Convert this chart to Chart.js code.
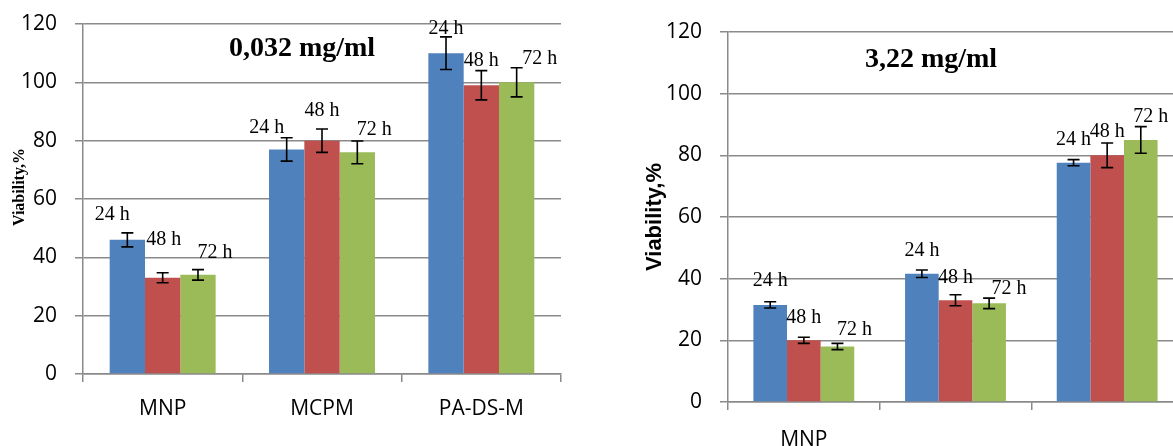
<!DOCTYPE html>
<html>
<head>
<meta charset="utf-8">
<script src="https://cdn.jsdelivr.net/npm/chart.js@4.4.1/dist/chart.umd.min.js"></script>
<style>
    html, body { margin: 0; padding: 0; background: #fff; overflow: hidden; }
    body { width: 1173px; height: 446px; position: relative; }
    canvas { position: absolute; top: 0; }
    #leftChart { left: 0; }
    #rightChart { left: 600px; }
</style>
</head>
<body>
<canvas id="leftChart" width="600" height="446"></canvas>
<canvas id="rightChart" width="600" height="446"></canvas>
<script>
// data
const categories = ["MNP", "MCPM", "PA-DS-M"];
const rightCategories = ["MNP", "", ""];
const seriesNames = ["24 h", "48 h", "72 h"];
const seriesColors = ["#4F81BD", "#C0504D", "#9BBB59"];
const yMax = 120;
const yStep = 20;

// 0,032 mg/ml
const left24 = [46, 77, 110];
const left48 = [33, 80, 99];
const left72 = [34, 76, 100];
const leftErr24 = [2.4, 4, 5.6];
const leftErr48 = [1.7, 4, 5];
const leftErr72 = [1.8, 3.9, 5];

// 3,22 mg/ml
const right24 = [31.5, 41.6, 77.6];
const right48 = [20, 33, 80];
const right72 = [18, 32, 85];
const rightErr24 = [1, 1.2, 1];
const rightErr48 = [1, 1.8, 4];
const rightErr72 = [1, 1.7, 4.3];

// label nudges (dx, dy from top centre of each bar), like moved Excel labels
const leftLabelShift = [
    [[-15, -25], [-20, -22], [0, -24]],
    [[1, -38], [0, -30], [0, -25]],
    [[17, -22], [17, -23], [23, -24]]
];
const rightLabelShift = [
    [[0, -24], [0, -23], [0, -23]],
    [[0, -23], [0, -23], [0, -24]],
    [[17, -17], [20, -15], [10, -23]]
];

const gridGray = "#8a8a8a";
const tickFont = { family: "'Open Sans', 'Liberation Sans', sans-serif", size: 21 };

function makeOverlay(opts) {
    return {
        id: "overlay",
        afterDatasetsDraw(chart) {
            const ctx = chart.ctx;
            const yScale = chart.scales.y;
            ctx.save();

            // error bars
            ctx.strokeStyle = "#000";
            ctx.lineWidth = 1.6;
            chart.data.datasets.forEach((ds, di) => {
                const meta = chart.getDatasetMeta(di);
                meta.data.forEach((bar, i) => {
                    const v = ds.data[i];
                    const e = opts.errors[di][i];
                    const yTop = yScale.getPixelForValue(v + e);
                    const yBot = yScale.getPixelForValue(v - e);
                    ctx.beginPath();
                    ctx.moveTo(bar.x, yTop);
                    ctx.lineTo(bar.x, yBot);
                    ctx.moveTo(bar.x - 6, yTop);
                    ctx.lineTo(bar.x + 6, yTop);
                    ctx.moveTo(bar.x - 6, yBot);
                    ctx.lineTo(bar.x + 6, yBot);
                    ctx.stroke();
                });
            });

            // data labels
            ctx.fillStyle = "#000";
            ctx.font = "20px 'Liberation Serif', 'Times New Roman', serif";
            ctx.textAlign = "center";
            ctx.textBaseline = "middle";
            chart.data.datasets.forEach((ds, di) => {
                const meta = chart.getDatasetMeta(di);
                meta.data.forEach((bar, i) => {
                    const s = opts.shifts[di][i];
                    ctx.fillText(ds.label, bar.x + s[0], bar.y + s[1]);
                });
            });

            // chart title inside the plot
            ctx.font = "bold 28px 'Liberation Serif', 'Times New Roman', serif";
            ctx.fillText(opts.title, opts.titleX, opts.titleY);

            // y axis title
            ctx.font = opts.yTitleFont;
            ctx.translate(opts.yTitleX, opts.yTitleY);
            ctx.rotate(-Math.PI / 2);
            ctx.fillText("Viability,%", 0, 0);
            ctx.restore();
        }
    };
}

function buildChart(canvasId, labels, values, errors, shifts, geo) {
    const ctx = document.getElementById(canvasId).getContext("2d");
    return new Chart(ctx, {
        type: "bar",
        data: {
            labels: labels,
            datasets: values.map((vals, i) => ({
                label: seriesNames[i],
                data: vals,
                backgroundColor: seriesColors[i],
                borderWidth: 0,
                categoryPercentage: 0.665,
                barPercentage: 1
            }))
        },
        options: {
            responsive: false,
            animation: false,
            layout: { padding: { top: geo.top, right: geo.right, left: 0, bottom: 0 } },
            plugins: {
                legend: { display: false },
                tooltip: { enabled: false }
            },
            scales: {
                x: {
                    grid: {
                        offset: true,
                        drawOnChartArea: false,
                        drawTicks: true,
                        tickLength: 8,
                        color: gridGray,
                        lineWidth: 1.5
                    },
                    border: { color: gridGray, width: 1.5 },
                    ticks: { color: "#000", font: tickFont, padding: geo.xPad },
                    afterFit: scale => { scale.height = geo.xHeight; }
                },
                y: {
                    min: 0,
                    max: yMax,
                    ticks: { stepSize: yStep, color: "#000", font: tickFont, padding: 18 },
                    grid: { color: gridGray, lineWidth: 1.5, tickLength: 8 },
                    border: { color: gridGray, width: 1.5 },
                    afterFit: scale => {
                        scale.width = geo.yWidth;
                        scale.paddingTop = 0;
                        scale.paddingBottom = 0;
                    }
                }
            }
        },
        plugins: [makeOverlay({
            errors: errors,
            shifts: shifts,
            title: geo.title,
            titleX: geo.titleX,
            titleY: geo.titleY,
            yTitleFont: geo.yTitleFont,
            yTitleX: geo.yTitleX,
            yTitleY: geo.yTitleY
        })]
    });
}

buildChart("leftChart", categories,
    [left24, left48, left72],
    [leftErr24, leftErr48, leftErr72],
    leftLabelShift,
    {
        top: 24, right: 39, yWidth: 83, xHeight: 72, xPad: 14,
        title: "0,032 mg/ml", titleX: 302, titleY: 49,
        yTitleFont: "bold 16px 'Liberation Serif', 'Times New Roman', serif",
        yTitleX: 20, yTitleY: 187
    });

buildChart("rightChart", rightCategories,
    [right24, right48, right72],
    [rightErr24, rightErr48, rightErr72],
    rightLabelShift,
    {
        top: 32, right: 17, yWidth: 128, xHeight: 44, xPad: 17,
        title: "3,22 mg/ml", titleX: 331, titleY: 60,
        yTitleFont: "bold 22px 'Liberation Sans', Arial, sans-serif",
        yTitleX: 55, yTitleY: 217
    });
</script>
</body>
</html>
